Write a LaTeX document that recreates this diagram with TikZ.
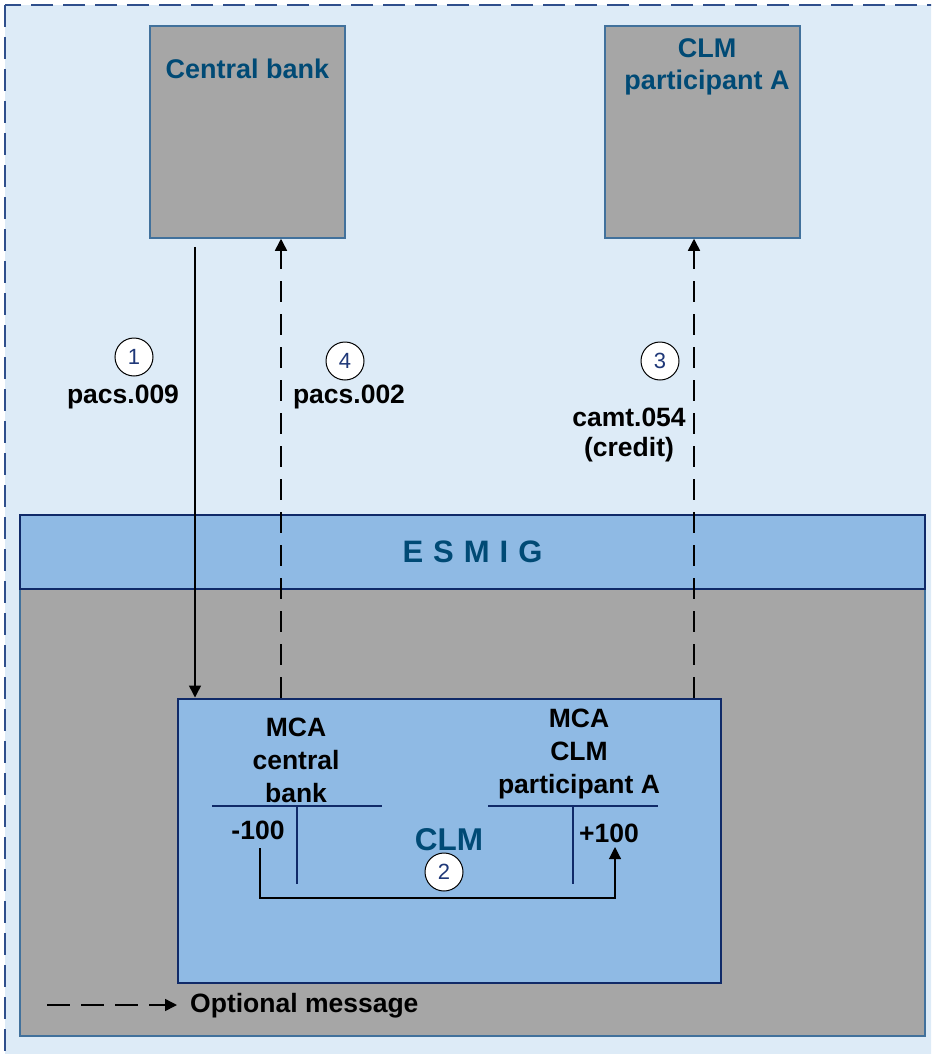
\documentclass[tikz,border=0pt]{standalone}
\usepackage{fontspec}
\setmainfont{Liberation Sans}
\usetikzlibrary{arrows.meta}
\definecolor{bgblue}{RGB}{221,235,247}
\definecolor{boxgray}{RGB}{166,166,166}
\definecolor{midblue}{RGB}{143,186,228}
\definecolor{titleblue}{RGB}{0,74,117}
\definecolor{navy}{RGB}{16,42,104}
\definecolor{edgeblue}{RGB}{65,113,156}
\definecolor{numblue}{RGB}{31,56,120}
\definecolor{dashblue}{RGB}{47,79,140}
\begin{document}
\begin{tikzpicture}[x=1pt,y=-1pt,
 party/.style={draw=edgeblue, line width=1.5pt, fill=boxgray, minimum width=195pt, minimum height=212pt, inner sep=0pt},
 title/.style={font=\fontsize{27}{32}\selectfont\bfseries, text=titleblue, align=center, inner sep=0pt},
 lbl/.style={font=\fontsize{26.5}{30}\selectfont\bfseries, align=center, inner sep=0pt},
 acct/.style={font=\fontsize{26.5}{33}\selectfont\bfseries, align=center, inner sep=0pt},
 num/.style={circle, draw=black, fill=white, line width=1pt, minimum size=38pt, inner sep=0pt, font=\fontsize{22}{22}\selectfont, text=numblue},
 msg/.style={line width=1.5pt, -{Triangle[length=12pt,width=12pt]}},
 opt/.style={msg, dash pattern=on 21pt off 12pt},
 tline/.style={draw=navy, line width=1.5pt}
]
\useasboundingbox (0,0) rectangle (931,1054);
\clip (0,0) rectangle (931,1054);
\fill[white] (0,0) rectangle (931,1054);
\draw[fill=bgblue, draw=dashblue, dash pattern=on 22pt off 10pt, line width=1.2pt] (5,5) rectangle (960,1090);

% top parties
\node[party] (cb) at (247.5,132) {};
\node[title] (cbt) at (247.5,69) {Central bank};
\node[party] (pa) at (702.5,132) {};
\node[title] (pat) at (707,67) {CLM\\participant A};

% CLM area
\node[draw=edgeblue, fill=boxgray, line width=1.2pt, minimum width=905pt, minimum height=447pt, inner sep=0pt] (area) at (472.5,812.5) {};
\node[draw=navy, fill=midblue, line width=2.5pt, minimum width=905pt, minimum height=74pt, inner sep=0pt,
  font=\fontsize{31}{31}\selectfont\bfseries, text=titleblue] (esmig) at (472.5,552)
  {E\hspace{10pt}S\hspace{10pt}M\hspace{10pt}I\hspace{10pt}G};
\node[draw=navy, fill=midblue, line width=2pt, minimum width=543pt, minimum height=284pt, inner sep=0pt] (clm) at (449,840.5) {};
\node[font=\fontsize{31.5}{31.5}\selectfont\bfseries, text=titleblue, inner sep=0pt] (clmt) at (449,840) {CLM};

% accounts
\node[acct] (mcacb) at (296,760) {MCA\\central\\bank};
\node[acct] (mcapa) at (579,754) {MCA\\CLM\\participant A};
\draw[tline] (212,806) -- (382,806) (297,806) -- (297,884);
\draw[tline] (488,806) -- (658,806) (573,806) -- (573,884);
\node[lbl] (m100) at (258,830) {-100};
\node[lbl] (p100) at (609,833) {+100};

% arrow x positions
\coordinate (x1) at (195,0);
\coordinate (x4) at (281,0);
\coordinate (x3) at (694,0);

% messages
\draw[msg] ([yshift=-8pt]x1 |- cb.south) -- (x1 |- clm.north);
\draw[opt] (x4 |- clm.north) -- (x4 |- cb.south);
\draw[opt] (x3 |- clm.north) -- (x3 |- pa.south);

% booking transfer
\coordinate (tstart) at (260,848);
\coordinate (tbot) at (260,898);
\coordinate (tend) at (615,847);
\draw[msg, line width=1.2pt] (tstart) -- (tbot) -| (tend);

% labels
\node[num] (n1) at (134,357) {1};
\node[lbl] (l1) at (123,397) {pacs.009};
\node[num] (n4) at (345,361) {4};
\node[lbl] (l4) at (349,397) {pacs.002};
\node[num] (n3) at (660,361) {3};
\node[lbl] (l3) at (629,435) {camt.054\\(credit)};
\node[num] (n2) at (444,872) {2};

% legend
\coordinate (lgs) at (47,1005);
\node[lbl, anchor=west] (lgt) at (190,1006) {Optional message};
\coordinate (lge) at (177,1005);
\draw[opt, dash pattern=on 23pt off 11pt] (lgs) -- (lge);
\end{tikzpicture}
\end{document}
